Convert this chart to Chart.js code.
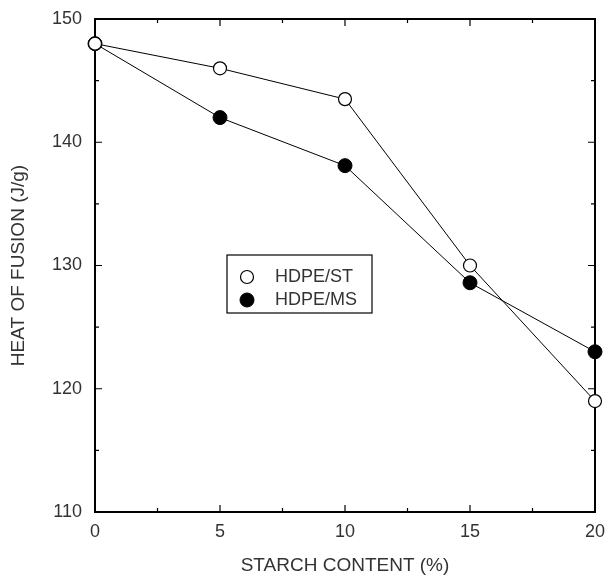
<!DOCTYPE html>
<html>
<head>
<meta charset="utf-8">
<script src="https://cdn.jsdelivr.net/npm/chart.js@4/dist/chart.umd.min.js"></script>
<style>
  html, body { margin: 0; padding: 0; background: #fff; }
  #wrap { width: 608px; height: 577px; }
</style>
</head>
<body>
<div id="wrap"><canvas id="chart"></canvas></div>
<script>
// data
const starchContent = [0, 5, 10, 15, 20];
const hdpeSt = [148, 146, 143.5, 130, 119];
const hdpeMs = [148, 142, 138.1, 128.6, 123];
const seriesNames = ['HDPE/ST', 'HDPE/MS'];
const xTitle = 'STARCH CONTENT (%)';
const yTitle = 'HEAT OF FUSION (J/g)';

const FONT = '"Liberation Sans", Arial, sans-serif';
const TEXT = '#333';

// box + inward ticks on all four sides
const framePlugin = {
    id: 'frame',
    beforeDatasetsDraw(chart) {
        const {ctx, chartArea: a, scales: {x, y}} = chart;
        ctx.save();
        ctx.strokeStyle = '#000';
        ctx.lineWidth = 2;
        ctx.strokeRect(a.left, a.top, a.right - a.left, a.bottom - a.top);
        ctx.lineWidth = 1.2;
        ctx.beginPath();
        for (let v = x.min; v <= x.max; v += 2.5) {
            const px = x.getPixelForValue(v);
            const len = v % 5 === 0 ? 7 : 4;
            ctx.moveTo(px, a.bottom); ctx.lineTo(px, a.bottom - len);
            ctx.moveTo(px, a.top); ctx.lineTo(px, a.top + len);
        }
        for (let v = y.min; v <= y.max; v += 5) {
            const py = y.getPixelForValue(v);
            const len = v % 10 === 0 ? 7 : 4;
            ctx.moveTo(a.left, py); ctx.lineTo(a.left + len, py);
            ctx.moveTo(a.right, py); ctx.lineTo(a.right - len, py);
        }
        ctx.stroke();
        ctx.restore();
    }
};

// legend box inside the plot
const boxLegend = {
    id: 'boxLegend',
    afterDraw(chart) {
        const {ctx, chartArea: a} = chart;
        const left = a.left + 132, top = a.top + 236, w = 145, h = 58;
        ctx.save();
        ctx.fillStyle = '#fff';
        ctx.fillRect(left, top, w, h);
        ctx.strokeStyle = '#000';
        ctx.lineWidth = 1.2;
        ctx.strokeRect(left, top, w, h);
        ctx.font = '18px ' + FONT;
        ctx.textBaseline = 'middle';
        chart.data.datasets.forEach((ds, i) => {
            const cy = top + 22 + i * 23;
            ctx.beginPath();
            ctx.arc(left + 20, cy, ds.pointRadius, 0, Math.PI * 2);
            ctx.fillStyle = ds.pointBackgroundColor;
            ctx.fill();
            ctx.lineWidth = ds.pointBorderWidth;
            ctx.strokeStyle = '#000';
            ctx.stroke();
            ctx.fillStyle = TEXT;
            ctx.fillText(ds.label, left + 48, cy);
        });
        ctx.restore();
    }
};

let ctx = document.getElementById('chart').getContext('2d');
let chart = new Chart(ctx, {
    type: 'line',
    data: {
        datasets: [{
            label: seriesNames[0],
            data: starchContent.map((s, i) => ({x: s, y: hdpeSt[i]})),
            borderColor: '#000',
            borderWidth: 1,
            pointRadius: 6.5,
            pointBackgroundColor: '#fff',
            pointBorderColor: '#000',
            pointBorderWidth: 1.2,
            clip: false,
        }, {
            label: seriesNames[1],
            data: starchContent.map((s, i) => ({x: s, y: hdpeMs[i]})),
            borderColor: '#000',
            borderWidth: 1,
            pointRadius: 7,
            pointBackgroundColor: '#000',
            pointBorderColor: '#000',
            pointBorderWidth: 1,
            clip: false,
        }]
    },
    options: {
        responsive: true,
        maintainAspectRatio: false,
        animation: false,
        layout: {padding: {top: 19, right: 13, left: 0, bottom: 0}},
        plugins: {legend: {display: false}, tooltip: {enabled: false}},
        scales: {
            x: {
                type: 'linear',
                min: 0, max: 20,
                grid: {display: false, drawTicks: false},
                border: {display: false},
                ticks: {stepSize: 5, padding: 9, color: TEXT, font: {family: FONT, size: 18}},
                title: {display: true, text: xTitle, color: TEXT, font: {family: FONT, size: 19}, padding: {top: 0, bottom: 0}},
                afterFit: (s) => { s.height = 65; s.paddingLeft = 0; s.paddingRight = 0; }
            },
            y: {
                type: 'linear',
                min: 110, max: 150,
                grid: {display: false, drawTicks: false},
                border: {display: false},
                ticks: {stepSize: 10, padding: 13, color: TEXT, font: {family: FONT, size: 18}},
                title: {display: true, text: yTitle, color: TEXT, font: {family: FONT, size: 19}, padding: {top: 7, bottom: 0}},
                afterFit: (s) => { s.width = 95; s.paddingTop = 0; s.paddingBottom = 0; }
            }
        }
    },
    plugins: [framePlugin, boxLegend]
});
</script>
</body>
</html>
